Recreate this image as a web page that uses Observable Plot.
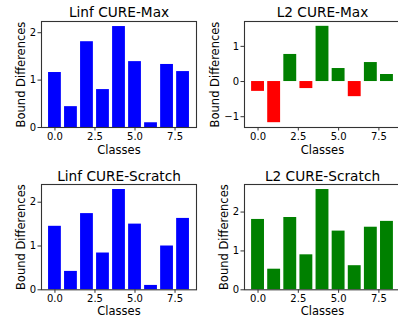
<!DOCTYPE html>
<html><head><meta charset="utf-8">
<script src="https://cdn.jsdelivr.net/npm/d3@7"></script>
<script src="https://cdn.jsdelivr.net/npm/@observablehq/plot@0.6"></script>
<style>
html,body{margin:0;padding:0;background:#fff;overflow:hidden}
#wrap{position:relative;width:398px;height:323px;overflow:hidden;background:#fff}
#wrap > svg{position:absolute}
</style></head><body><div id="wrap"></div>
<script>
// ---- data ----
const classes = [0, 1, 2, 3, 4, 5, 6, 7, 8];
const linfMax = [1.16, 0.44, 1.81, 0.80, 2.13, 1.39, 0.10, 1.33, 1.18];
const l2Max = [-0.28, -1.17, 0.77, -0.20, 1.57, 0.37, -0.43, 0.54, 0.20];
const linfScratch = [1.45, 0.42, 1.74, 0.84, 2.29, 1.50, 0.10, 1.00, 1.63];
const l2Scratch = [1.81, 0.53, 1.86, 0.90, 2.58, 1.51, 0.62, 1.61, 1.76];
const titles = ["Linf CURE-Max", "L2 CURE-Max", "Linf CURE-Scratch", "L2 CURE-Scratch"];
const xTicks = [0, 2.5, 5, 7.5];
const xLabel = "Classes";
const yLabel = "Bound Differences";

// ---- layout / styles ----
const panels = [
  {title: titles[0], values: linfMax, pos: "#0000ff", neg: "#0000ff",
   left: 0, top: 0, width: 200, height: 160, ml: 41, mr: 4, mt: 21, mb: 33, titleDy: -8.7, xlabDy: 22.5, ylabDx: -20},
  {title: titles[1], values: l2Max, pos: "#008000", neg: "#ff0000",
   left: 200, top: 0, width: 204, height: 160, ml: 44, mr: 4, mt: 21, mb: 33, titleDy: -8.7, xlabDy: 22.5, ylabDx: -29},
  {title: titles[2], values: linfScratch, pos: "#0000ff", neg: "#0000ff",
   left: 0, top: 160, width: 200, height: 163, ml: 41, mr: 4, mt: 24, mb: 33.7, titleDy: -8.2, xlabDy: 22, ylabDx: -20},
  {title: titles[3], values: l2Scratch, pos: "#008000", neg: "#008000",
   left: 200, top: 160, width: 204, height: 163, ml: 44, mr: 4, mt: 24, mb: 33.7, titleDy: -8.2, xlabDy: 22, ylabDx: -20}
];

const wrap = document.getElementById("wrap");
const font = "DejaVu Sans";

for (const p of panels) {
  const data = classes.map((c, i) => ({c, v: p.values[i]}));
  const vmax = d3.max(p.values), vmin = d3.min(p.values);
  let lo, hi;
  if (vmin >= 0) { lo = 0; hi = vmax * 1.05; }
  else { const r = vmax - vmin; lo = vmin - 0.05 * r; hi = vmax + 0.05 * r; }
  const xlo = d3.min(classes) - 0.4, xhi = d3.max(classes) + 0.4;
  const xpad = (xhi - xlo) * 0.05;
  const yTicks = d3.range(Math.ceil(lo), Math.floor(hi) + 1);

  const svg = Plot.plot({
    width: p.width, height: p.height,
    marginLeft: p.ml, marginRight: p.mr, marginTop: p.mt, marginBottom: p.mb,
    style: {fontFamily: font, fontSize: "10px", background: "transparent", color: "#000", overflow: "visible"},
    x: {domain: [xlo - xpad, xhi + xpad], label: null},
    y: {domain: [lo, hi], label: null},
    marks: [
      Plot.rectY(data, {x1: d => d.c - 0.4, x2: d => d.c + 0.4, y1: d => 0, y2: "v",
        fill: d => d.v >= 0 ? p.pos : p.neg}),
      Plot.frame({stroke: "#333", strokeWidth: 1.1}),
      Plot.axisX(xTicks, {tickSize: 3.5, tickPadding: 2, tickFormat: d3.format(".1f"), label: null, fontSize: 10, stroke: "#333"}),
      Plot.axisY(yTicks, {tickSize: 3.5, tickPadding: 2, tickFormat: d3.format("d"), label: null, fontSize: 10, stroke: "#333"}),
      Plot.text([p.title], {frameAnchor: "top", dy: p.titleDy, fontSize: 13.7, lineAnchor: "middle", fill: "#000"}),
      Plot.text([xLabel], {frameAnchor: "bottom", dy: p.xlabDy, fontSize: 11.5, lineAnchor: "middle", fill: "#000"}),
      Plot.text([yLabel], {frameAnchor: "left", dx: p.ylabDx, rotate: -90, textAnchor: "middle", fontSize: 11.5, lineAnchor: "middle", fill: "#000"})
    ]
  });
  svg.style.left = p.left + "px";
  svg.style.top = p.top + "px";
  wrap.appendChild(svg);
}
</script>
</body></html>
